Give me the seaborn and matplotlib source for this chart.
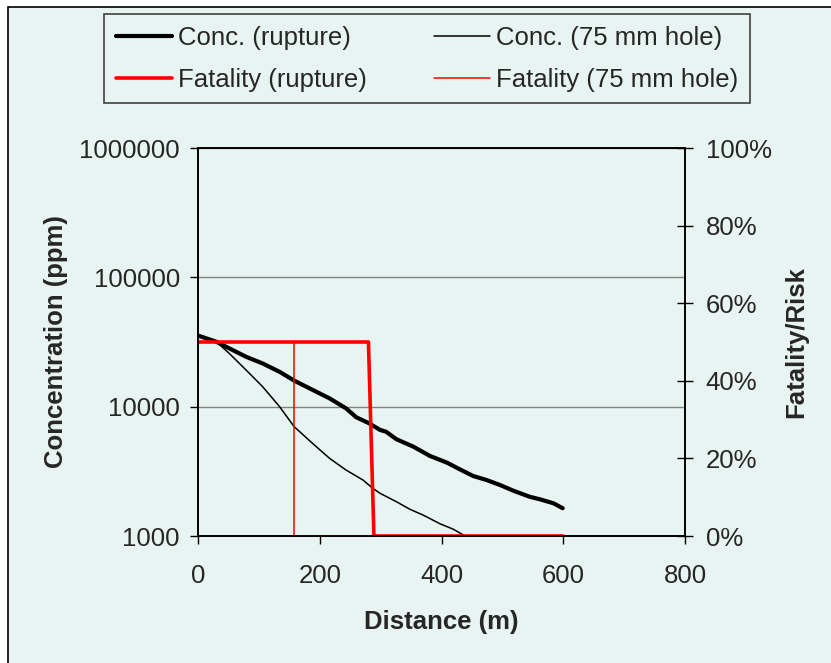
import numpy as np
import pandas as pd
import matplotlib
matplotlib.use("Agg")
import matplotlib.pyplot as plt
from matplotlib.patches import Rectangle
from matplotlib.ticker import FixedLocator, NullLocator, FuncFormatter, PercentFormatter
import seaborn as sns

# Concentration along the downwind distance, full-bore rupture
dist_rupture = [0, 2, 30, 51, 79, 106, 134, 158, 188, 216, 243, 260, 281, 299, 309,
                326, 354, 381, 409, 430, 452, 474, 496, 518, 545, 562, 584, 599]
conc_rupture = [35500, 35200, 31800, 28300, 24300, 21600, 18600, 15900, 13500, 11600, 9720, 8280, 7440, 6610, 6400,
                5600, 4900, 4160, 3690, 3280, 2910, 2710, 2480, 2240, 2010, 1920, 1790, 1640]

# Concentration along the downwind distance, 75 mm hole
dist_hole = [0, 2, 30, 51, 79, 106, 134, 158, 188, 216, 243, 271, 287, 299,
             326, 348, 370, 398, 419, 439]
conc_hole = [35500, 35200, 31800, 25900, 19200, 14300, 10000, 7000, 5210, 3990, 3240, 2710, 2340, 2140,
             1840, 1610, 1450, 1240, 1130, 1000]

# Fatality probability
dist_fat_rupture = [0, 280, 289, 600]
fat_rupture = [0.5, 0.5, 0.0, 0.0]
dist_fat_hole = [0, 158, 158, 600]
fat_hole = [0.5, 0.5, 0.0, 0.0]

conc_ticks = [1000, 10000, 100000, 1000000]
dist_ticks = [0, 200, 400, 600, 800]
risk_ticks = [0, 0.2, 0.4, 0.6, 0.8, 1.0]

BG = "#E8F4F1"
FS = 18.5

sns.set_theme(style="white")
plt.rcParams["font.family"] = ["Liberation Sans", "DejaVu Sans"]
plt.rcParams["axes.unicode_minus"] = False

fig = plt.figure(figsize=(8.31, 6.63), dpi=100, facecolor="white")
# chart area with its frame (only top and left edges fall inside the canvas)
fig.patches.append(Rectangle((8 / 831, -0.05), 1.2, 1 - 7 / 663 + 0.05,
                             transform=fig.transFigure, facecolor=BG,
                             edgecolor="black", linewidth=1.2, zorder=-10))

ax = fig.add_axes([198 / 831, 1 - 536 / 663, (685 - 198) / 831, (536 - 148) / 663])
ax.set_facecolor(BG)
ax2 = ax.twinx()

df_r = pd.DataFrame({"d": dist_rupture, "c": conc_rupture})
df_h = pd.DataFrame({"d": dist_hole, "c": conc_hole})
df_fr = pd.DataFrame({"d": dist_fat_rupture, "f": fat_rupture})
df_fh = pd.DataFrame({"d": dist_fat_hole, "f": fat_hole})

sns.lineplot(data=df_r, x="d", y="c", ax=ax, color="black", linewidth=3.0,
             sort=False, estimator=None, label="Conc. (rupture)", legend=False)
sns.lineplot(data=df_h, x="d", y="c", ax=ax, color="black", linewidth=1.1,
             sort=False, estimator=None, label="Conc. (75 mm hole)", legend=False)
sns.lineplot(data=df_fr, x="d", y="f", ax=ax2, color="#FF0000", linewidth=2.6,
             sort=False, estimator=None, label="Fatality (rupture)", legend=False)
sns.lineplot(data=df_fh, x="d", y="f", ax=ax2, color="#FF0000", linewidth=1.1,
             sort=False, estimator=None, label="Fatality (75 mm hole)", legend=False)

ax.set_yscale("log")
ax.set_ylim(1000, 1000000)
ax.set_xlim(0, 800)
ax.yaxis.set_major_locator(FixedLocator(conc_ticks))
ax.yaxis.set_minor_locator(NullLocator())
ax.yaxis.set_major_formatter(FuncFormatter(lambda v, p: f"{int(round(v))}"))
ax.xaxis.set_major_locator(FixedLocator(dist_ticks))
ax.grid(True, axis="y", color="#808080", linewidth=1.0)
ax.grid(False, axis="x")

ax2.set_ylim(0, 1)
ax2.yaxis.set_major_locator(FixedLocator(risk_ticks))
ax2.yaxis.set_major_formatter(PercentFormatter(1.0, decimals=0))
ax2.grid(False)

for a in (ax, ax2):
    for s in a.spines.values():
        s.set_color("black")
        s.set_linewidth(1.2)

ax.tick_params(axis="y", which="major", direction="out", length=6, width=1, color="black",
               labelsize=FS, pad=7, left=True)
ax.tick_params(axis="x", which="major", direction="out", length=6, width=1, color="black",
               labelsize=FS, pad=14, bottom=True)
ax2.tick_params(axis="y", which="major", direction="inout", length=12, width=1, color="black",
                labelsize=FS, pad=9, right=True)

ax.set_xlabel("Distance (m)", fontsize=18.5, fontweight="bold", labelpad=16)
ax.set_ylabel("Concentration (ppm)", fontsize=18.5, fontweight="bold", labelpad=8)
ax2.set_ylabel("Fatality/Risk", fontsize=18.5, fontweight="bold", labelpad=9)

h1, l1 = ax.get_legend_handles_labels()
h2, l2 = ax2.get_legend_handles_labels()
handles = [h1[0], h2[0], h1[1], h2[1]]
labels = [l1[0], l2[0], l1[1], l2[1]]
leg = fig.legend(handles, labels, ncol=2, loc="upper left",
                 bbox_to_anchor=(104 / 831, 1 - 14 / 663), bbox_transform=fig.transFigure,
                 borderaxespad=0, fontsize=FS, frameon=True, fancybox=False,
                 handlelength=2.2, handletextpad=0.23, columnspacing=2.6,
                 labelspacing=0.7, borderpad=0.45)
leg.get_frame().set_facecolor(BG)
leg.get_frame().set_edgecolor("#404040")
leg.get_frame().set_linewidth(1.2)
leg.get_frame().set_alpha(1)

fig.savefig("out.png", dpi=100, facecolor="white")
